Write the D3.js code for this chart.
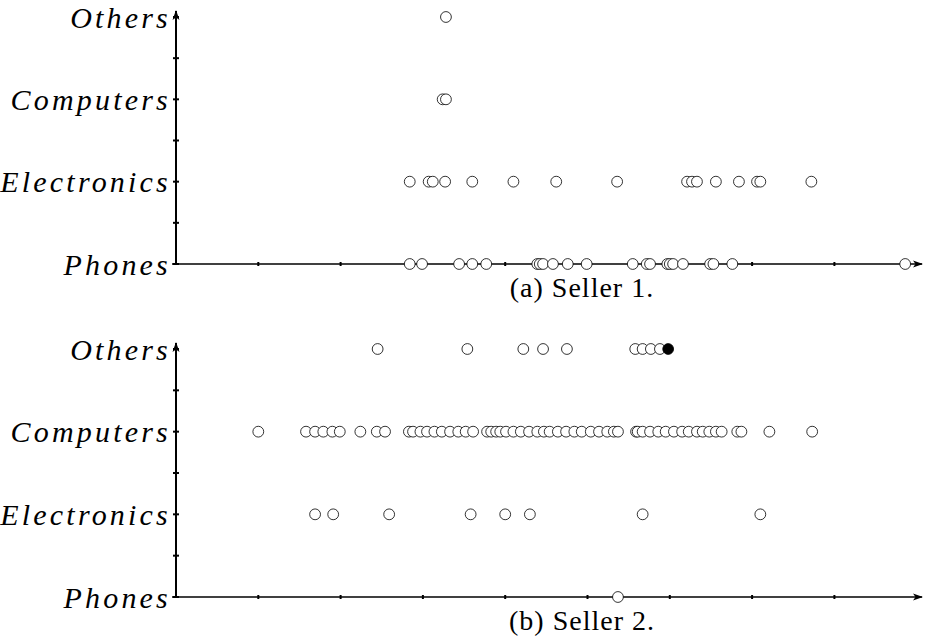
<!DOCTYPE html>
<html>
<head>
<meta charset="utf-8">
<script src="https://cdn.jsdelivr.net/npm/d3@7"></script>
<style>
  body { margin: 0; background: #fff; }
  svg { display: block; }
</style>
</head>
<body>
<svg width="927" height="639"></svg>
<script>
var categories = ["Phones", "Electronics", "Computers", "Others"];
var xTicks = [1, 2, 3, 4, 5, 6, 7, 8];

// seller 1
var s1Phones = [2.84, 2.99, 3.44, 3.60, 3.77, 4.39, 4.42, 4.46, 4.58, 4.76, 4.99, 5.55, 5.72, 5.76,
                5.97, 6.00, 6.04, 6.16, 6.49, 6.53, 6.76, 8.86];
var s1Electronics = [2.84, 3.07, 3.12, 3.27, 3.60, 4.10, 4.62, 5.36, 6.21, 6.27, 6.33, 6.56, 6.84,
                     7.06, 7.10, 7.72];
var s1Computers = [3.24, 3.28];
var s1Others = [3.28];

// seller 2
var s2Phones = [5.37];
var s2Electronics = [1.69, 1.91, 2.59, 3.58, 4.00, 4.30, 5.67, 7.10];
var s2Computers = [1.00, 1.58, 1.69, 1.79, 1.90, 1.99, 2.24, 2.44, 2.54, 2.83, 2.88, 2.97, 3.05,
                   3.14, 3.23, 3.33, 3.43, 3.52, 3.61, 3.78, 3.83, 3.89, 3.94, 4.01, 4.10, 4.19,
                   4.29, 4.39, 4.47, 4.54, 4.64, 4.74, 4.84, 4.93, 5.04, 5.14, 5.24, 5.32, 5.37,
                   5.59, 5.61, 5.67, 5.76, 5.86, 5.95, 6.05, 6.15, 6.23, 6.33, 6.40, 6.48, 6.56,
                   6.63, 6.82, 6.87, 7.21, 7.73];
var s2Others = [2.45, 3.54, 4.22, 4.46, 4.75, 5.58, 5.67, 5.77, 5.88];
var s2Highlight = [5.98];

var svg = d3.select("svg");

svg.append("defs").append("marker")
    .attr("id", "arrow")
    .attr("viewBox", "0 0 10 10")
    .attr("refX", 9).attr("refY", 5)
    .attr("markerWidth", 10).attr("markerHeight", 10)
    .attr("markerUnits", "userSpaceOnUse")
    .attr("orient", "auto")
    .append("path")
    .attr("d", "M0,1.5 L10,5 L0,8.5 L2.5,5 Z")
    .attr("fill", "#000");

var x = d3.scaleLinear().domain([0, 9]).range([176, 916.7]);

var panels = [
  { top: 17, bottom: 264, caption: "(a) Seller 1.",
    rows: [s1Phones, s1Electronics, s1Computers, s1Others], filled: [] },
  { top: 349, bottom: 597, caption: "(b) Seller 2.",
    rows: [s2Phones, s2Electronics, s2Computers, s2Others], filled: s2Highlight }
];

panels.forEach(function (p) {
  var y = d3.scaleLinear().domain([0, 3]).range([p.bottom, p.top]);
  var g = svg.append("g");

  // axes
  g.append("line")
      .attr("x1", x(0)).attr("x2", x(0))
      .attr("y1", y(0) + 1).attr("y2", y(3) - 6)
      .attr("stroke", "#000").attr("stroke-width", 2)
      .attr("marker-end", "url(#arrow)");
  g.append("line")
      .attr("x1", x(0) - 4).attr("x2", 922)
      .attr("y1", y(0)).attr("y2", y(0))
      .attr("stroke", "#000").attr("stroke-width", 1.6)
      .attr("marker-end", "url(#arrow)");

  // y ticks (major + midpoints)
  g.selectAll(".ytick")
    .data(d3.range(0, 3.01, 0.5))
    .enter().append("line")
      .attr("x1", x(0) - 3).attr("x2", x(0) + 3)
      .attr("y1", function (d) { return y(d); })
      .attr("y2", function (d) { return y(d); })
      .attr("stroke", "#000").attr("stroke-width", 2);

  // x ticks
  g.selectAll(".xtick")
    .data(xTicks)
    .enter().append("line")
      .attr("x1", function (d) { return x(d); })
      .attr("x2", function (d) { return x(d); })
      .attr("y1", y(0) - 2).attr("y2", y(0) + 2)
      .attr("stroke", "#000").attr("stroke-width", 2);

  // category labels
  g.selectAll(".ylab")
    .data(categories)
    .enter().append("text")
      .attr("x", x(0) - 5)
      .attr("y", function (d, i) { return y(i); })
      .attr("dy", "0.35em")
      .attr("text-anchor", "end")
      .attr("font-family", "Liberation Serif, serif")
      .attr("font-style", "italic")
      .attr("font-size", 30)
      .attr("letter-spacing", 3.2)
      .text(function (d) { return d; });

  // points
  p.rows.forEach(function (vals, i) {
    g.selectAll(null)
      .data(vals)
      .enter().append("circle")
        .attr("cx", function (d) { return x(d); })
        .attr("cy", y(i))
        .attr("r", 5.4)
        .attr("fill", "#fff")
        .attr("stroke", "#000")
        .attr("stroke-width", 0.8);
  });
  g.selectAll(null)
    .data(p.filled)
    .enter().append("circle")
      .attr("cx", function (d) { return x(d); })
      .attr("cy", y(3))
      .attr("r", 5.4)
      .attr("fill", "#000")
      .attr("stroke", "#000")
      .attr("stroke-width", 0.8);

  g.append("text")
      .attr("x", 582)
      .attr("y", y(0) + 33)
      .attr("text-anchor", "middle")
      .attr("font-family", "Liberation Serif, serif")
      .attr("font-size", 28)
      .attr("letter-spacing", 1)
      .text(p.caption);
});
</script>
</body>
</html>
